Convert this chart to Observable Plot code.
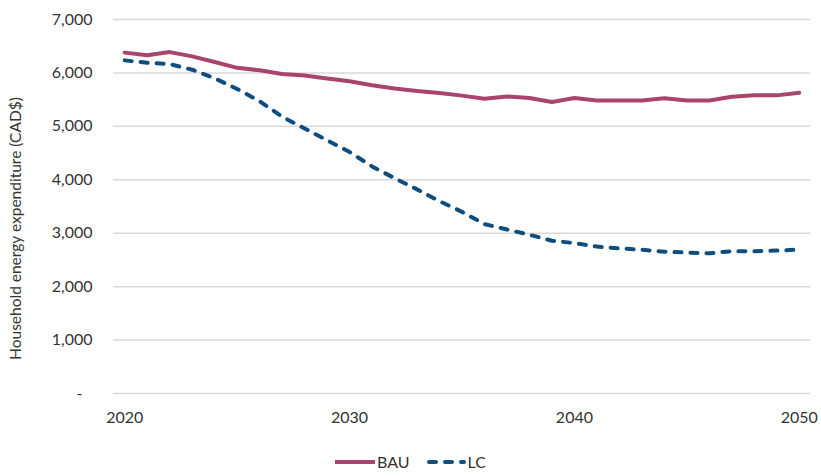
<!DOCTYPE html>
<html>
<head>
<meta charset="utf-8">
<script src="https://cdn.jsdelivr.net/npm/d3@7"></script>
<script src="https://cdn.jsdelivr.net/npm/@observablehq/plot@0.6"></script>
<style>
  body { margin: 0; background: #fff; font-family: Lato, "Open Sans", sans-serif; color: #333; }
  #chart svg { display: block; }
  #legend { display: flex; justify-content: center; align-items: center; gap: 16px; font-size: 16px; line-height: 19px; color: #333; margin-top: 12px; }
  #legend .item { display: flex; align-items: center; gap: 2px; }
</style>
</head>
<body>
<div id="chart"></div>
<div id="legend"></div>
<script>
const years = d3.range(2020, 2051);
const bau = [6380, 6330, 6390, 6310, 6205, 6095, 6050, 5980, 5950, 5895, 5845, 5770, 5710, 5660, 5625, 5575, 5515, 5560, 5530, 5455, 5530, 5485, 5485, 5485, 5525, 5485, 5485, 5555, 5580, 5580, 5630];
const lc  = [6235, 6190, 6165, 6060, 5900, 5700, 5470, 5180, 4960, 4740, 4520, 4250, 4030, 3820, 3600, 3400, 3170, 3070, 2970, 2860, 2815, 2750, 2715, 2690, 2655, 2638, 2625, 2662, 2662, 2675, 2693];
const seriesNames = ["BAU", "LC"];
const seriesColors = ["#A9446C", "#0E4D7E"];
const yTicks = [0, 1000, 2000, 3000, 4000, 5000, 6000, 7000];
const xTicks = [2020, 2030, 2040, 2050];
const yLabel = "Household energy expenditure (CAD$)";

const data = [];
years.forEach((yr, i) => {
  data.push({year: yr, value: bau[i], series: seriesNames[0]});
  data.push({year: yr, value: lc[i], series: seriesNames[1]});
});

const fmt = d3.format(",");
const chart = Plot.plot({
  width: 821,
  height: 440,
  marginLeft: 113,
  marginRight: 11,
  marginTop: 19,
  marginBottom: 47,
  style: {fontFamily: "Lato, 'Open Sans', sans-serif", fontSize: "16px", color: "#333", background: "#fff"},
  x: {domain: [2019.5, 2050.5]},
  y: {domain: [0, 7000]},
  marks: [
    Plot.gridY(yTicks, {stroke: "#d9d9d9", strokeOpacity: 1, strokeWidth: 1.5}),
    Plot.axisY(yTicks, {tickSize: 0, tickPadding: 21, fontSize: 16,
      tickFormat: d => d === 0 ? "-\u2002\u2009" : fmt(d), label: null}),
    Plot.text([yLabel], {frameAnchor: "left", text: d => d, rotate: -90, dx: -97, dy: 22, fontSize: 15.5, fill: "#333", textAnchor: "middle", lineAnchor: "middle"}),
    Plot.axisX(xTicks, {tickSize: 0, tickPadding: 18, fontSize: 16, tickFormat: d => String(d), label: null}),
    Plot.line(data.filter(d => d.series === "BAU"), {x: "year", y: "value", stroke: seriesColors[0], strokeWidth: 4, strokeLinejoin: "round", strokeLinecap: "round"}),
    Plot.line(data.filter(d => d.series === "LC"), {x: "year", y: "value", stroke: seriesColors[1], strokeWidth: 4, strokeDasharray: "7,9", strokeLinecap: "round", strokeLinejoin: "round"})
  ]
});
document.getElementById("chart").appendChild(chart);

const legend = document.getElementById("legend");
seriesNames.forEach((name, i) => {
  const item = document.createElement("div");
  item.className = "item";
  const dash = i === 1 ? 'stroke-dasharray="7,9" stroke-linecap="round"' : '';
  item.innerHTML = `<svg width="40" height="10"><line x1="${i===1?3:0}" y1="5" x2="${i===1?38:40}" y2="5" stroke="${seriesColors[i]}" stroke-width="4" ${dash}></line></svg><span>${name}</span>`;
  legend.appendChild(item);
});
</script>
</body>
</html>
